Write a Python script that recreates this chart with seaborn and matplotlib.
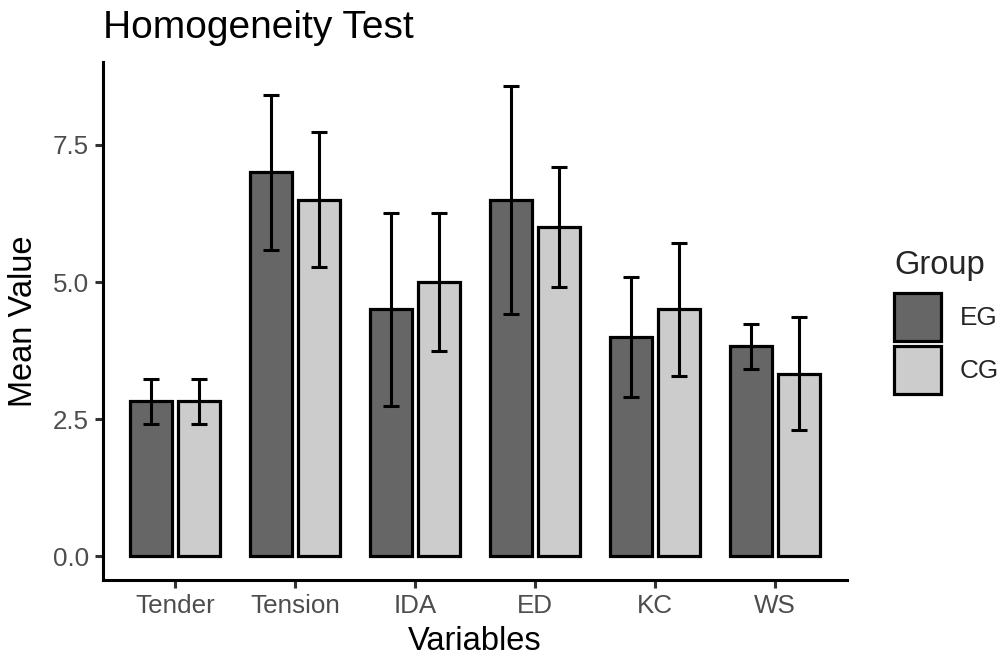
import matplotlib
matplotlib.use("Agg")
import matplotlib.pyplot as plt
from matplotlib.patches import Patch
import seaborn as sns
import pandas as pd

variables = ["Tender", "Tension", "IDA", "ED", "KC", "WS"]
groups = ["EG", "CG"]
eg_mean = [2.83, 7.0, 4.5, 6.5, 4.0, 3.83]
cg_mean = [2.83, 6.5, 5.0, 6.0, 4.5, 3.33]
eg_sd = [0.41, 1.41, 1.76, 2.08, 1.10, 0.41]
cg_sd = [0.41, 1.23, 1.26, 1.09, 1.22, 1.03]

colors = {"EG": "#666666", "CG": "#CCCCCC"}

df = pd.DataFrame({
    "Variable": variables * 2,
    "Group": ["EG"] * len(variables) + ["CG"] * len(variables),
    "Mean": eg_mean + cg_mean,
    "SD": eg_sd + cg_sd,
})

sns.set_theme(style="ticks")
plt.rcParams["font.family"] = ["Liberation Sans", "DejaVu Sans"]

fig = plt.figure(figsize=(10.08, 6.61), dpi=100)
ax = fig.add_axes([103 / 1008, 1 - 580 / 661, (847 - 103) / 1008, (580 - 62) / 661])

sns.barplot(data=df, x="Variable", y="Mean", hue="Group", order=variables,
            hue_order=groups, palette=colors, edgecolor="black", linewidth=2.3,
            width=0.8, gap=0.125, errorbar=None, saturation=1, ax=ax, legend=False)

sds = {"EG": eg_sd, "CG": cg_sd}
for cont, g in zip(ax.containers, groups):
    xs = [b.get_x() + b.get_width() / 2 for b in cont.patches]
    ys = [b.get_height() for b in cont.patches]
    ax.errorbar(xs, ys, yerr=sds[g], fmt="none", ecolor="black",
                elinewidth=2.2, capsize=6, capthick=2.2, zorder=5)

ax.set_xlim(-0.6, len(variables) - 0.4)
ax.set_ylim(-0.43, 9.01)
ax.set_yticks([0, 2.5, 5.0, 7.5])
ax.set_yticklabels(["0.0", "2.5", "5.0", "7.5"])

for s in ["top", "right"]:
    ax.spines[s].set_visible(False)
for s in ["left", "bottom"]:
    ax.spines[s].set_linewidth(2.2)
    ax.spines[s].set_color("black")

ax.tick_params(axis="both", labelsize=18.7, labelcolor="#4D4D4D", color="#333333",
               width=2.2, length=6, pad=4)

ax.set_xlabel("Variables", fontsize=23.5, color="black", labelpad=6)
ax.set_ylabel("Mean Value", fontsize=23.5, color="black", labelpad=10)
ax.set_title("Homogeneity Test", fontsize=28, loc="left", pad=17, color="black")

handles = [Patch(facecolor=colors[g], edgecolor="black", linewidth=2.3, label=g) for g in groups]
leg = fig.legend(handles=handles, title="Group", loc="upper left",
                 bbox_to_anchor=(894 / 1008, 1 - 250 / 661), frameon=False,
                 fontsize=18.8, title_fontsize=23.5, handlelength=1.8, handleheight=2.45,
                 labelspacing=0.16, handletextpad=0.72, borderpad=0, borderaxespad=0)
leg._legend_box.align = "left"
leg._legend_box.sep = 9

fig.savefig("out.png", dpi=100)
